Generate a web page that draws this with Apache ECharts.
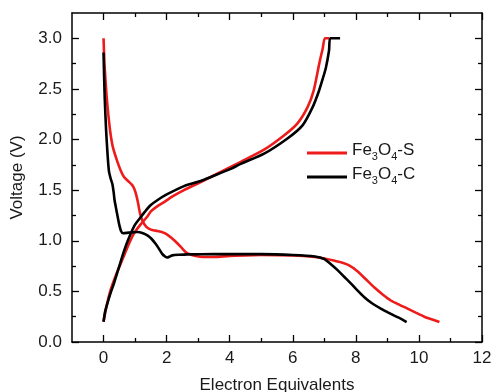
<!DOCTYPE html>
<html>
<head>
<meta charset="utf-8">
<script src="https://cdn.jsdelivr.net/npm/echarts@6/dist/echarts.min.js"></script>
<style>
html,body{margin:0;padding:0;background:#fff;}
#c{width:492px;height:392px;}
</style>
</head>
<body>
<div id="c"></div>
<script>
// Data: [electron equivalents, voltage]
const sDischarge = [[0,3.0],[0.03,2.75],[0.07,2.55],[0.1,2.42],[0.15,2.25],[0.22,2.06],[0.3,1.92],[0.43,1.79],[0.55,1.69],[0.65,1.63],[0.78,1.59],[0.91,1.55],[0.98,1.51],[1.03,1.46],[1.09,1.38],[1.15,1.28],[1.23,1.20],[1.35,1.14],[1.5,1.11],[1.65,1.10],[1.82,1.09],[1.97,1.07],[2.15,1.03],[2.29,0.99],[2.45,0.94],[2.6,0.89],[2.75,0.865],[2.92,0.85],[3.15,0.84],[3.5,0.84],[4,0.85],[5,0.86],[6,0.855],[6.7,0.84],[7.0,0.825],[7.3,0.805],[7.55,0.785],[7.8,0.755],[8.05,0.70],[8.3,0.625],[8.58,0.54],[8.85,0.47],[9.11,0.41],[9.4,0.365],[9.64,0.33],[9.9,0.29],[10.17,0.25],[10.4,0.225],[10.65,0.197]];
const sCharge = [[0,0.2],[0.1,0.36],[0.22,0.51],[0.38,0.65],[0.54,0.77],[0.75,0.93],[0.96,1.07],[1.17,1.16],[1.39,1.24],[1.5,1.29],[1.7,1.34],[1.91,1.38],[2.2,1.44],[2.55,1.50],[3.08,1.58],[3.4,1.63],[4.03,1.73],[4.35,1.78],[5.09,1.90],[5.72,2.04],[6.15,2.16],[6.47,2.32],[6.66,2.48],[6.84,2.75],[6.95,2.9],[7.02,3.0],[7.15,3.0]];
const cDischarge = [[0,2.86],[0.02,2.6],[0.04,2.39],[0.08,2.1],[0.12,1.89],[0.17,1.69],[0.23,1.61],[0.28,1.56],[0.32,1.48],[0.35,1.40],[0.41,1.30],[0.49,1.17],[0.55,1.10],[0.62,1.075],[0.8,1.08],[1.07,1.086],[1.25,1.075],[1.39,1.053],[1.52,1.02],[1.65,0.97],[1.76,0.92],[1.86,0.87],[1.95,0.845],[2.02,0.835],[2.1,0.845],[2.18,0.856],[2.4,0.862],[2.66,0.866],[3.5,0.868],[5,0.868],[6,0.86],[6.7,0.845],[7.0,0.82],[7.2,0.77],[7.42,0.71],[7.63,0.645],[7.84,0.58],[8.05,0.51],[8.26,0.445],[8.5,0.385],[8.79,0.33],[9.0,0.295],[9.22,0.26],[9.42,0.23],[9.61,0.197]];
const cCharge = [[0,0.2],[0.05,0.3],[0.12,0.38],[0.22,0.48],[0.33,0.58],[0.45,0.7],[0.59,0.84],[0.72,0.96],[0.86,1.07],[1.0,1.16],[1.17,1.23],[1.32,1.29],[1.49,1.35],[1.75,1.41],[2.02,1.46],[2.55,1.54],[3.08,1.59],[3.4,1.63],[4.03,1.71],[4.35,1.76],[5.09,1.86],[5.83,2.01],[6.31,2.14],[6.63,2.32],[6.83,2.48],[6.95,2.6],[7.05,2.71],[7.15,2.88],[7.19,3.0],[7.5,3.0]];

const xMajorTicks = [0,2,4,6,8,10,12];
const xMinorTicks = [1,3,5,7,9,11];
const yMajorTicks = [0,0.5,1.0,1.5,2.0,2.5,3.0];
const yMinorTicks = [0.25,0.75,1.25,1.75,2.25,2.75];

const nameS = 'Fe3O4-S';
const nameC = 'Fe3O4-C';

const FONT = 'Liberation Sans, Arial, Helvetica, sans-serif';
const FS = 17;

function xAx(pos, ticks, len, labels, line) {
  return {
    type:'value', position:pos, min:-1, max:12, interval:1,
    axisLine:{show:line, onZero:false, lineStyle:{color:'#000',width:1.5}},
    axisTick:{show:true, inside:true, length:len, customValues:ticks, lineStyle:{color:'#000',width:1.3}},
    axisLabel:{show:labels, customValues:ticks, color:'#1a1a1a', fontSize:FS, fontFamily:FONT, margin:8},
    splitLine:{show:false},
    name: labels ? 'Electron Equivalents' : '', nameLocation:'middle', nameGap:35,
    nameTextStyle:{color:'#1a1a1a', fontSize:FS, fontFamily:FONT}
  };
}
function yAx(pos, ticks, len, labels, line) {
  return {
    type:'value', position:pos, min:0, max:3.25, interval:0.25,
    axisLine:{show:line, onZero:false, lineStyle:{color:'#000',width:1.5}},
    axisTick:{show:true, inside:true, length:len, customValues:ticks, lineStyle:{color:'#000',width:1.3}},
    axisLabel:{show:labels, customValues:ticks, color:'#1a1a1a', fontSize:FS, fontFamily:FONT, margin:10,
      formatter:v=>v.toFixed(1)},
    splitLine:{show:false},
    name: labels ? 'Voltage (V)' : '', nameLocation:'middle', nameGap:46, nameRotate:90,
    nameTextStyle:{color:'#1a1a1a', fontSize:FS, fontFamily:FONT}
  };
}

const chart = echarts.init(document.getElementById('c'), null, {renderer:'canvas'});
const RED = '#ee1b1b';
const BLK = '#000000';
function line(name, data, color) {
  return {type:'line', name:name, data:data, xAxisIndex:0, yAxisIndex:0,
    showSymbol:false, symbol:'none', smooth:0.25, lineStyle:{color:color,width:2.6}, itemStyle:{color:color},
    animation:false, z:color===BLK?3:2};
}
chart.setOption({
  animation:false,
  backgroundColor:'#fff',
  grid:{left:72, right:10, top:13, bottom:50, containLabel:false, outerBoundsMode:'none'},
  xAxis:[
    xAx('bottom', xMajorTicks, 7, true, true),
    xAx('bottom', xMinorTicks, 4, false, false),
    xAx('top', xMajorTicks, 7, false, true),
    xAx('top', xMinorTicks, 4, false, false)
  ],
  yAxis:[
    yAx('left', yMajorTicks, 7, true, true),
    yAx('left', yMinorTicks, 4, false, false),
    yAx('right', yMajorTicks, 7, false, true),
    yAx('right', yMinorTicks, 4, false, false)
  ],
  legend:{
    left:302, top:137, orient:'vertical', itemWidth:40, itemHeight:3, itemGap:4,
    data:[{name:nameS, icon:'rect', itemStyle:{color:RED}}, {name:nameC, icon:'rect', itemStyle:{color:BLK}}],
    itemStyle:{borderWidth:0},
    formatter:function(n){
      const p = n.split('-');
      return '{n|Fe}{s|3}{n|O}{s|4}{n|-' + p[1] + '}';
    },
    textStyle:{color:'#1a1a1a', fontFamily:FONT, fontSize:FS,
      rich:{n:{fontSize:FS, fontFamily:FONT, color:'#1a1a1a', lineHeight:22, verticalAlign:'top', padding:[0,0,0,0]},
            s:{fontSize:11, fontFamily:FONT, color:'#1a1a1a', lineHeight:22, verticalAlign:'top', padding:[9,0,0,0]}}}
  },
  series:[
    line(nameS, sDischarge, RED),
    line(nameS, sCharge, RED),
    line(nameC, cDischarge, BLK),
    line(nameC, cCharge, BLK)
  ]
});
</script>
</body>
</html>
